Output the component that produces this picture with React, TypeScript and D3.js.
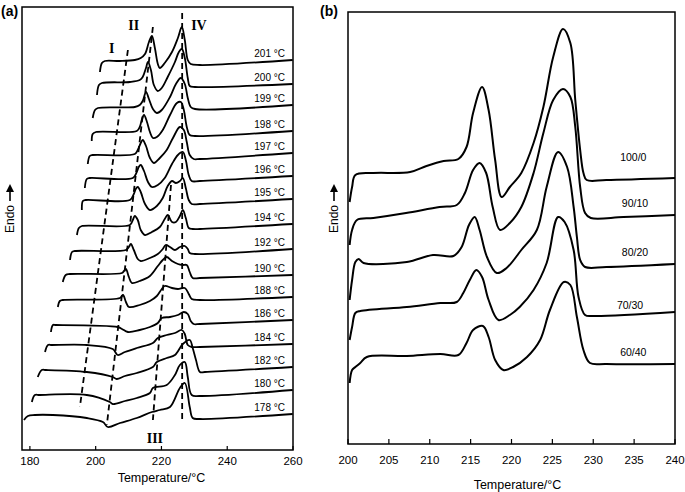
import React from 'react';
import * as d3 from 'd3';

// ---------- Panel (a): isothermal crystallization temperatures ----------
const a201 = [[201.3,378],[201.9,387],[202.8,389],[207.4,389],[211.9,390],[213.7,392],[215.0,396],[216.2,408],[217.1,414],[218.0,402],[218.9,386],[219.5,382],[221.0,387],[223.2,398],[225.0,412],[226.2,423],[227.1,410],[228.0,390],[228.9,386],[231.7,385],[259.9,390]];
const a200 = [[200.4,355],[201.0,365],[201.9,367],[210.4,368],[213.4,370],[214.3,373],[215.3,382],[215.9,388],[216.8,380],[217.7,365],[218.9,359],[220.1,362],[221.9,373],[224.1,388],[225.3,398],[226.2,401],[227.1,392],[228.0,372],[228.6,364],[230.2,363],[259.9,366]];
const a199 = [[199.1,332],[199.8,340],[200.7,342],[211.9,343],[213.4,345],[214.3,349],[215.3,358],[216.2,351],[217.4,341],[218.6,337],[220.1,340],[222.6,353],[224.4,366],[225.9,372],[227.1,366],[228.0,352],[228.9,343],[230.2,341],[259.9,345]];
const a198 = [[198.8,309],[199.1,316],[200.1,318],[212.5,319],[213.4,323],[214.0,330],[214.7,335],[215.6,328],[216.5,318],[217.4,312],[218.6,313],[220.4,320],[222.6,335],[224.7,347],[225.9,348],[226.8,340],[227.7,323],[228.6,315],[230.2,314],[259.9,319]];
const a197 = [[197.6,286],[198.2,294],[199.1,295],[211.9,296],[212.8,300],[213.7,307],[214.3,310],[215.3,304],[216.5,292],[217.7,287],[219.5,292],[221.6,300],[223.5,312],[225.6,323],[226.8,320],[227.7,308],[228.6,295],[229.8,291],[231.7,291],[259.9,297]];
const a196 = [[196.7,262],[197.3,271],[198.2,272],[211.3,272],[212.5,278],[213.1,283],[213.7,285],[214.7,279],[215.9,268],[217.1,263],[218.9,265],[221.0,272],[223.2,286],[225.0,295],[226.5,298],[227.4,290],[228.3,275],[229.2,269],[231.7,269],[259.9,274]];
const a195 = [[195.8,240],[196.1,249],[197.0,250],[210.4,250],[211.6,256],[212.2,261],[212.8,263],[213.7,258],[215.0,246],[216.5,240],[218.6,244],[220.4,252],[221.9,264],[223.2,269],[224.4,267],[225.6,269],[226.5,272],[227.4,262],[228.3,250],[229.2,246],[231.7,246],[259.9,251]];
const a194 = [[194.3,215],[194.9,222],[195.8,224],[210.4,225],[211.3,230],[211.9,234],[212.8,230],[213.7,220],[215.0,215],[217.1,218],[219.5,223],[221.0,231],[221.9,235],[223.2,228],[224.4,228],[225.6,234],[226.5,240],[227.4,232],[228.3,222],[229.5,221],[231.7,221],[259.9,226]];
const a192 = [[192.2,190],[192.8,198],[193.7,199],[209.2,200],[210.1,203],[210.7,206],[211.6,200],[212.8,191],[213.7,189],[216.5,192],[218.9,196],[220.4,201],[221.3,205],[222.6,203],[224.1,200],[225.6,203],[227.1,204],[228.0,201],[228.6,197],[230.2,196],[259.9,201]];
const a190 = [[190.0,168],[190.9,175],[192.2,176],[208.0,177],[208.6,179],[209.2,181],[210.1,173],[211.0,167],[213.4,169],[216.5,174],[218.9,184],[220.4,190],[221.6,193],[223.2,189],[225.0,186],[226.5,185],[227.7,185],[228.6,178],[229.5,172],[231.7,172],[259.9,175]];
const a188 = [[188.5,143],[189.1,149],[190.0,150],[207.4,152],[208.3,155],[209.2,148],[210.1,143],[213.4,145],[216.5,149],[218.6,154],[220.1,161],[221.0,164],[223.2,162],[225.0,161],[227.1,162],[228.3,156],[229.2,151],[231.7,150],[259.9,153]];
const a186 = [[186.4,118],[187.0,125],[187.9,125],[206.7,123],[208.0,121],[209.8,118],[213.4,120],[216.5,123],[218.9,127],[220.1,132],[222.6,133],[225.0,135],[226.8,138],[228.0,136],[228.9,129],[229.8,126],[231.7,126],[259.9,130]];
const a184 = [[184.6,98],[185.5,105],[186.7,105],[197.3,105],[205.2,101],[206.7,95],[208.9,98],[212.5,102],[217.4,107],[218.9,112],[221.6,115],[224.1,117],[226.2,120],[227.1,116],[228.0,105],[229.2,103],[231.7,103],[259.9,106]];
const a182 = [[182.4,73],[183.6,80],[184.9,80],[197.3,78],[205.2,73],[206.4,71],[208.9,74],[212.5,77],[217.4,83],[218.6,88],[221.6,92],[224.1,95],[226.5,106],[228.6,110],[229.5,102],[230.5,90],[231.7,78],[233.2,78],[259.9,83]];
const a180 = [[180.6,48],[181.5,55],[183.0,55],[197.3,55],[204.3,48],[205.2,46],[208.9,49],[212.5,52],[216.5,57],[217.4,62],[221.6,65],[224.1,75],[225.6,85],[227.1,88],[228.0,73],[229.2,55],[231.7,54],[259.9,60]];
const a178 = [[178.2,30],[179.4,34],[181.5,35],[187.0,35],[197.3,32],[202.2,28],[203.7,23],[207.4,27],[212.5,32],[217.1,38],[219.5,40],[222.6,43],[225.6,62],[227.1,67],[228.6,43],[229.5,32],[231.7,31],[259.9,36]];

const labelsA = ['201 °C','200 °C','199 °C','198 °C','197 °C','196 °C','195 °C','194 °C','192 °C','190 °C','188 °C','186 °C','184 °C','182 °C','180 °C','178 °C'];
const seriesA = [a201,a200,a199,a198,a197,a196,a195,a194,a192,a190,a188,a186,a184,a182,a180,a178];

// dashed guide lines I..IV: [T1, h1, T2, h2]
const guideLines = [[209.8,400,195.2,43],[217.4,423,203.4,25],[222.9,265,217.4,30],[226.3,437,226.3,28]];
const guideNames = ['I','II','III','IV'];
const guideLabelPos = [[204.9,402],[211.6,425],[218.0,12],[231.4,425]];

const ticksA = [180,200,220,240,260];

// ---------- Panel (b): blend ratios ----------
const b100 = [[200.2,242],[200.5,257],[200.9,269],[203.1,271],[207.6,272],[209.6,278],[211.7,283],[213.5,285],[214.5,297],[215.3,331],[216.4,357],[217.2,334],[218.0,284],[218.8,247],[219.8,257],[221.2,271],[222.7,301],[223.9,337],[225.1,387],[226.3,415],[227.2,401],[227.8,344],[228.4,294],[228.8,271],[229.2,264],[231.6,264],[240,266]];
const b90 = [[200.2,199],[200.5,214],[201.1,224],[203.1,226],[207.1,231],[211.2,237],[213.3,239],[214.3,251],[215.3,274],[216.1,281],[216.9,271],[217.7,237],[218.6,214],[219.8,221],[221.2,237],[222.7,271],[223.9,311],[225.1,344],[226.3,355],[227.2,347],[227.8,317],[228.4,257],[229.0,231],[229.7,226],[233.7,227],[240,229]];
const b80 = [[200.2,144],[200.5,164],[200.9,182],[201.3,185],[201.9,181],[207.2,182],[210.4,189],[212.9,188],[213.9,197],[214.8,219],[215.5,227],[216.1,214],[217.0,187],[218.2,171],[219.4,176],[221.2,194],[223.1,214],[224.3,257],[225.7,292],[226.8,277],[227.6,237],[228.0,207],[228.4,184],[229.0,177],[231.6,177],[240,180]];
const b70 = [[200.2,104],[200.5,117],[200.9,131],[201.5,133],[207.2,137],[211.3,141],[213.3,142],[214.1,151],[214.9,164],[215.7,174],[216.4,167],[217.2,144],[218.4,124],[219.8,129],[221.0,137],[222.7,154],[224.3,181],[225.7,227],[226.5,222],[227.6,194],[228.2,147],[229.0,129],[230.0,128],[240,132]];
const b60 = [[200.2,61],[200.5,74],[200.9,77],[201.5,81],[202.3,87],[207.2,88],[211.3,90],[213.5,89],[214.5,101],[215.3,114],[216.5,118],[217.2,107],[218.0,84],[219.0,74],[220.2,77],[221.9,87],[223.5,104],[224.7,134],[226.4,162],[227.2,159],[228.0,127],[228.8,94],[229.6,81],[231.6,80],[240,80]];

const labelsB = ['100/0','90/10','80/20','70/30','60/40'];
const seriesB = [b100,b90,b80,b70,b60];
const labelPosB = [[234.9,287],[235.1,241],[235.1,192],[234.5,139],[234.9,92]];

const ticksB = [200,205,210,215,220,225,230,235,240];

const SANS = '"Liberation Sans", Arial, Helvetica, sans-serif';
const SERIF = '"Liberation Serif", "Times New Roman", serif';

function EndoLabel({ x }: { x: number }) {
  return (
    <g>
      <line x1={x} y1={201} x2={x} y2={191} stroke="#000" strokeWidth={1.6} />
      <path d={`M${x - 4},${192} L${x + 4},${192} L${x},${184} Z`} fill="#000" />
      <text transform={`translate(${x + 4},${219}) rotate(-90)`} textAnchor="middle" fontFamily={SANS} fontSize={12}>Endo</text>
    </g>
  );
}

export default function App() {
  const W = 685, H = 492;
  const xA = d3.scaleLinear().domain([177.6, 260]).range([22, 293]);
  const yA = d3.scaleLinear().domain([0, 443]).range([450, 7]);
  const xB = d3.scaleLinear().domain([200, 240]).range([348, 675]);
  const yB = d3.scaleLinear().domain([0, 432]).range([444, 12]);

  const smooth = d3.curveCatmullRom.alpha(0.5);
  const lineA = d3.line<number[]>().x(d => xA(d[0])).y(d => yA(d[1])).curve(smooth);
  const lineB = d3.line<number[]>().x(d => xB(d[0])).y(d => yB(d[1])).curve(smooth);

  return (
    <svg width={W} height={H} style={{ position: 'absolute', left: 0, top: 0, background: '#fff' }}>
      <rect x={0} y={0} width={W} height={H} fill="#fff" />
      {/* Panel a */}
      <text x={1} y={16} fontFamily={SANS} fontSize={14} fontWeight="bold">(a)</text>
      <rect x={xA(177.6)} y={yA(443)} width={xA(260) - xA(177.6)} height={yA(0) - yA(443)} fill="none" stroke="#000" strokeWidth={1.5} />
      {ticksA.map(t => (
        <g key={'ta' + t}>
          <line x1={xA(t)} x2={xA(t)} y1={yA(0)} y2={yA(0) - 4} stroke="#000" strokeWidth={1.2} />
          <text x={xA(t)} y={yA(0) + 15} textAnchor="middle" fontFamily={SANS} fontSize={11.5}>{t}</text>
        </g>
      ))}
      <text x={(xA(177.6) + xA(260)) / 2 + 4} y={482} textAnchor="middle" fontFamily={SANS} fontSize={12.5}>Temperature/°C</text>
      <EndoLabel x={10} />
      {guideLines.map((g, i) => (
        <line key={'g' + i} x1={xA(g[0])} y1={yA(g[1])} x2={xA(g[2])} y2={yA(g[3])} stroke="#000" strokeWidth={1.8} strokeDasharray="6,4" />
      ))}
      {guideNames.map((n, i) => (
        <text key={'gn' + i} x={xA(guideLabelPos[i][0])} y={yA(guideLabelPos[i][1]) + 5} textAnchor="middle" fontFamily={SERIF} fontWeight="bold" fontSize={14}>{n}</text>
      ))}
      {seriesA.map((s, i) => (
        <path key={'ca' + i} d={lineA(s) || ''} fill="none" stroke="#000" strokeWidth={1.8} strokeLinejoin="round" />
      ))}
      {seriesA.map((s, i) => (
        <text key={'la' + i} x={285} y={yA(s[s.length - 1][1]) - 3} textAnchor="end" fontFamily={SANS} fontSize={10}>{labelsA[i]}</text>
      ))}

      {/* Panel b */}
      <text x={320} y={16} fontFamily={SANS} fontSize={14} fontWeight="bold">(b)</text>
      <rect x={xB(200)} y={yB(432)} width={xB(240) - xB(200)} height={yB(0) - yB(432)} fill="none" stroke="#000" strokeWidth={1.5} />
      {ticksB.map(t => (
        <g key={'tb' + t}>
          <line x1={xB(t)} x2={xB(t)} y1={yB(0)} y2={yB(0) - 5} stroke="#000" strokeWidth={1.2} />
          <text x={xB(t)} y={yB(0) + 20} textAnchor="middle" fontFamily={SANS} fontSize={11.5}>{t}</text>
        </g>
      ))}
      <text x={(xB(200) + xB(240)) / 2 + 6} y={489} textAnchor="middle" fontFamily={SANS} fontSize={12.5}>Temperature/°C</text>
      <EndoLabel x={334} />
      {seriesB.map((s, i) => (
        <path key={'cb' + i} d={lineB(s) || ''} fill="none" stroke="#000" strokeWidth={2} strokeLinejoin="round" />
      ))}
      {labelsB.map((l, i) => (
        <text key={'lb' + i} x={xB(labelPosB[i][0])} y={yB(labelPosB[i][1]) + 4} textAnchor="middle" fontFamily={SANS} fontSize={10.5}>{l}</text>
      ))}
    </svg>
  );
}
